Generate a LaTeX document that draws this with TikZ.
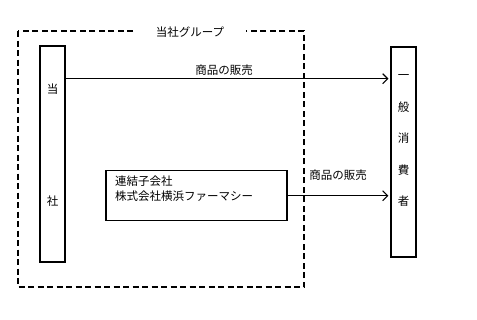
\documentclass[tikz,border=0pt]{standalone}
\usepackage{fontspec}
\setmainfont{Noto Sans CJK JP}
\usetikzlibrary{arrows.meta}
\begin{document}
\begin{tikzpicture}[x=1pt,y=-1pt,
  txt/.style={font=\fontsize{11.5}{14}\selectfont, inner sep=0pt},
  solidbox/.style={draw, line width=1.1pt, inner sep=0pt},
  grp/.style={draw, dash pattern=on 6pt off 3.5pt, line width=1.1pt},
  flow/.style={draw, line width=1.1pt, -{Straight Barb[length=5pt,width=10pt,line width=1.1pt]}, shorten >=2pt}]
\useasboundingbox (0,0) rectangle (477,319);
% group boundary
\coordinate (g1) at (18,31);
\coordinate (g2) at (304,287);
\draw[grp] (g1) rectangle (g2);
\node[txt, fill=white, inner xsep=22pt, inner ysep=3pt] (glabel) at (190,32) {当社グループ};
% left box
\node[solidbox, minimum width=25pt, minimum height=216pt] (tousha) at (52.5,154) {};
\node[txt] (c1) at (52.5,89) {当};
\node[txt] (c2) at (52.5,201) {社};
% right box
\node[solidbox, minimum width=25pt, minimum height=210pt] (cons) at (403.5,152) {};
\node[txt, font=\fontsize{11.5}{31.5}\selectfont, align=center] (constext) at (403.5,140.5) {一\\般\\消\\費\\者};
% subsidiary
\node[solidbox, minimum width=181pt, minimum height=50pt] (sub) at (196.5,195.7) {};
\node[txt, anchor=north west, align=left, font=\fontsize{11.5}{15}\selectfont] (subtext) at (115,176) {連結子会社\\株式会社横浜ファーマシー};
% arrows
\coordinate (a1s) at (tousha.east |- 0,78.7);
\coordinate (a1e) at (cons.west |- 0,78.7);
\draw[flow] (a1s) -- (a1e);
\node[txt] (l1) at (224,70) {商品の販売};
\coordinate (a2e) at (cons.west |- sub.east);
\draw[flow] (sub.east) -- (a2e);
\node[txt] (l2) at (338,175) {商品の販売};
\end{tikzpicture}
\end{document}
